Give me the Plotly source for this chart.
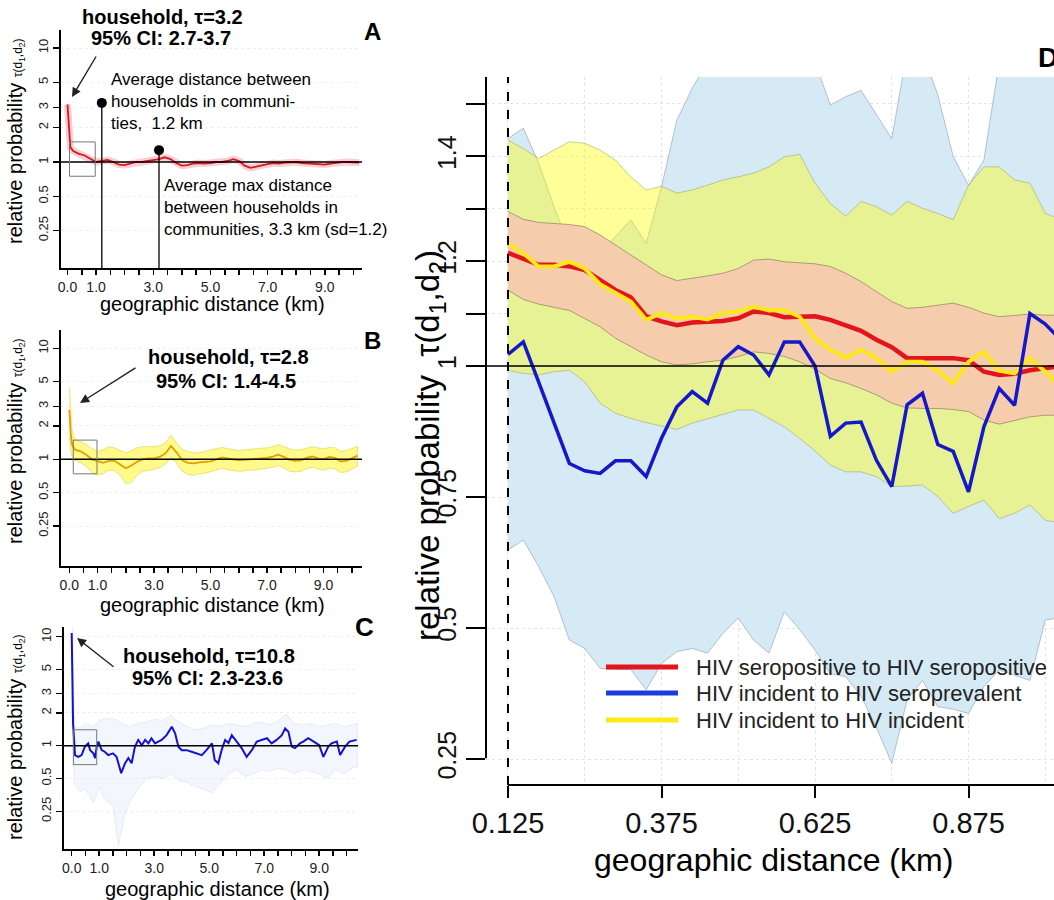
import plotly.graph_objects as go

W, H = 1054, 900
FONT = "Liberation Sans, Arial, Helvetica, sans-serif"

# ---------------- Panel D data (geographic distance in km) ----------------
dist_D = [0.125, 0.15, 0.175, 0.2, 0.225, 0.25, 0.275, 0.3, 0.325, 0.35,
          0.375, 0.4, 0.425, 0.45, 0.475, 0.5, 0.525, 0.55, 0.575, 0.6,
          0.625, 0.65, 0.675, 0.7, 0.725, 0.75, 0.775, 0.8, 0.825, 0.85,
          0.875, 0.9, 0.925, 0.95, 0.975, 1.0, 1.025]
red_D = [1.216, 1.205, 1.193, 1.193, 1.190, 1.183, 1.164, 1.145, 1.131, 1.095,
         1.085, 1.078, 1.083, 1.085, 1.086, 1.091, 1.104, 1.101, 1.093, 1.094,
         1.095, 1.088, 1.078, 1.067, 1.050, 1.036, 1.015, 1.015, 1.015, 1.015,
         1.011, 0.989, 0.983, 0.985, 0.992, 0.997, 1.0]
red_D_up = [1.295, 1.280, 1.274, 1.272, 1.270, 1.266, 1.250, 1.231, 1.212, 1.193,
            1.174, 1.163, 1.167, 1.172, 1.177, 1.186, 1.202, 1.204, 1.199, 1.197,
            1.195, 1.190, 1.177, 1.161, 1.142, 1.123, 1.110, 1.112, 1.116, 1.120,
            1.112, 1.101, 1.094, 1.097, 1.099, 1.097, 1.097]
red_D_lo = [1.145, 1.127, 1.118, 1.112, 1.106, 1.091, 1.075, 1.053, 1.037, 1.021,
            1.008, 1.002, 1.004, 1.008, 1.011, 1.018, 1.027, 1.024, 1.018, 1.008,
            0.994, 0.976, 0.968, 0.957, 0.945, 0.929, 0.920, 0.919, 0.919, 0.917,
            0.913, 0.897, 0.889, 0.896, 0.903, 0.906, 0.906]
yel_D = [1.234, 1.215, 1.190, 1.190, 1.199, 1.186, 1.156, 1.139, 1.123, 1.088,
         1.101, 1.091, 1.094, 1.089, 1.101, 1.104, 1.113, 1.106, 1.107, 1.094,
         1.053, 1.031, 1.016, 1.031, 1.015, 0.989, 1.008, 1.008, 0.991, 0.967,
         1.008, 1.027, 0.991, 0.986, 1.015, 0.989, 0.96]
yel_D_up = [1.431, 1.415, 1.396, 1.412, 1.428, 1.425, 1.412, 1.393, 1.361, 1.336,
            1.343, 1.330, 1.336, 1.345, 1.355, 1.361, 1.368, 1.380, 1.399, 1.404,
            1.349, 1.310, 1.286, 1.314, 1.304, 1.288, 1.314, 1.301, 1.291, 1.279,
            1.345, 1.380, 1.380, 1.355, 1.349, 1.291, 1.28]
yel_D_lo = [0.992, 0.986, 0.983, 0.989, 0.992, 0.970, 0.929, 0.910, 0.900, 0.892,
            0.885, 0.879, 0.891, 0.900, 0.908, 0.916, 0.916, 0.900, 0.884, 0.862,
            0.838, 0.811, 0.798, 0.798, 0.789, 0.770, 0.771, 0.773, 0.751, 0.719,
            0.732, 0.744, 0.709, 0.719, 0.735, 0.706, 0.70]
blue_D = [1.022, 1.046, 0.969, 0.893, 0.814, 0.800, 0.795, 0.819, 0.819, 0.789,
          0.862, 0.922, 0.951, 0.929, 1.011, 1.037, 1.021, 0.983, 1.046, 1.046,
          1.0, 0.866, 0.891, 0.893, 0.82, 0.770, 0.926, 0.948, 0.850, 0.837,
          0.760, 0.884, 0.957, 0.925, 1.100, 1.080, 1.05]
blue_D_up = [1.434, 1.454, 1.387, 1.304, 1.228, 1.19, 1.215, 1.247, 1.279, 1.234,
             1.342, 1.469, 1.53, 1.58, 1.62, 1.63, 1.65, 1.62, 1.6, 1.6,
             1.58, 1.498, 1.514, 1.526, 1.479, 1.434, 1.6, 1.6, 1.517, 1.40,
             1.345, 1.393, 1.58, 1.62, 1.62, 1.6, 1.6]
blue_D_lo = [0.649, 0.668, 0.617, 0.560, 0.477, 0.461, 0.423, 0.421, 0.421, 0.382,
             0.432, 0.455, 0.461, 0.452, 0.490, 0.519, 0.477, 0.452, 0.531, 0.497,
             0.458, 0.413, 0.407, 0.37, 0.31, 0.242, 0.363, 0.40, 0.35, 0.345,
             0.337, 0.388, 0.42, 0.41, 0.40, 0.515, 0.52]

# ---------------- Panels A / B data ----------------
dist_AB = [0, 0.05, 0.1, 0.2, 0.4, 0.6, 0.8, 1.0, 1.2, 1.4, 1.6, 1.8, 2.0, 2.2, 2.4,
           2.6, 2.8, 3.0, 3.2, 3.4, 3.6, 3.8, 4.0, 4.2, 4.4, 4.6, 4.8, 5.0, 5.2, 5.4,
           5.6, 5.8, 6.0, 6.2, 6.4, 6.6, 6.8, 7.0, 7.2, 7.4, 7.6, 7.8, 8.0, 8.2, 8.4,
           8.6, 8.8, 9.0, 9.2, 9.4, 9.6, 9.8, 10.0, 10.2]
tau_A = [3.2, 2.0, 1.35, 1.25, 1.18, 1.14, 1.06, 1.0, 1.02, 1.04, 1.0, 0.95, 0.94, 0.97,
         1.0, 1.0, 1.02, 1.05, 1.06, 1.1, 1.06, 0.98, 0.93, 0.94, 0.97, 0.98, 0.97, 0.98,
         1.0, 1.0, 1.02, 1.06, 1.02, 0.93, 0.89, 0.91, 0.94, 0.96, 0.98, 0.97, 0.99, 1.0,
         1.0, 0.98, 0.97, 0.96, 0.95, 0.95, 0.97, 0.99, 1.0, 1.0, 0.99, 0.99]
tau_B = [2.8, 1.7, 1.35, 1.22, 1.18, 1.1, 1.0, 0.97, 0.93, 0.97, 0.97, 0.9, 0.83, 0.88,
         0.95, 1.0, 1.02, 1.02, 1.05, 1.13, 1.32, 1.15, 0.98, 0.93, 0.92, 0.94, 0.95, 0.96,
         1.0, 1.04, 1.02, 1.0, 0.98, 0.99, 1.0, 1.0, 1.01, 1.03, 1.06, 1.1, 1.05, 0.99,
         0.97, 0.98, 1.03, 1.06, 1.02, 1.0, 1.05, 1.03, 0.96, 0.97, 1.02, 1.08]
tau_B_up = [4.5, 2.6, 1.8, 1.5, 1.45, 1.36, 1.25, 1.18, 1.22, 1.3, 1.27, 1.2, 1.15, 1.2,
            1.27, 1.3, 1.3, 1.3, 1.33, 1.4, 1.65, 1.4, 1.22, 1.17, 1.14, 1.15, 1.18, 1.21,
            1.25, 1.28, 1.25, 1.22, 1.2, 1.22, 1.23, 1.24, 1.25, 1.27, 1.3, 1.35, 1.3, 1.24,
            1.21, 1.22, 1.26, 1.3, 1.27, 1.24, 1.28, 1.27, 1.18, 1.2, 1.25, 1.31]
tau_B_lo = [1.6, 1.2, 1.05, 0.98, 0.93, 0.87, 0.76, 0.72, 0.74, 0.8, 0.79, 0.72, 0.6, 0.62,
            0.72, 0.78, 0.8, 0.81, 0.84, 0.9, 1.05, 0.92, 0.78, 0.73, 0.72, 0.74, 0.75, 0.77,
            0.8, 0.83, 0.81, 0.79, 0.78, 0.79, 0.8, 0.8, 0.81, 0.83, 0.85, 0.88, 0.84, 0.78,
            0.77, 0.78, 0.82, 0.85, 0.82, 0.8, 0.83, 0.82, 0.76, 0.77, 0.82, 0.87]

# ---------------- Panel C data ----------------
dist_C = [0, 0.05, 0.12, 0.24, 0.36, 0.48, 0.6, 0.67, 0.79, 0.85,
          0.91, 0.97, 1.09, 1.2, 1.33, 1.5, 1.63, 1.76, 1.8, 1.94,
          2.06, 2.18, 2.3, 2.42, 2.55, 2.67, 2.79, 2.9, 3.03, 3.15,
          3.27, 3.45, 3.64, 3.76, 3.88, 4.0, 4.18, 4.36, 4.55, 4.73,
          4.9, 5.1, 5.2, 5.33, 5.45, 5.58, 5.7, 5.82, 6.0, 6.18,
          6.36, 6.55, 6.73, 6.9, 7.1, 7.27, 7.45, 7.64, 7.76, 7.88,
          8.0, 8.12, 8.3, 8.42, 8.6, 8.8, 9.0, 9.15, 9.33, 9.45,
          9.64, 9.76, 9.94, 10.1, 10.36]
tau_C = [10.8, 1.6, 0.82, 0.79, 0.82, 0.98, 1.05, 0.91, 0.85, 0.77,
         0.98, 1.09, 0.91, 0.88, 0.82, 0.85, 0.79, 0.6, 0.56, 0.69,
         0.77, 0.69, 0.98, 1.13, 1.01, 1.13, 1.05, 1.17, 1.05, 1.09,
         1.13, 1.25, 1.49, 1.3, 0.98, 0.91, 0.91, 0.88, 0.85, 0.82,
         0.91, 1.05, 0.74, 0.69, 0.91, 1.13, 1.06, 1.25, 1.09, 0.95,
         0.79, 0.91, 1.09, 1.13, 1.17, 1.05, 1.13, 1.25, 1.44, 1.34,
         0.98, 0.95, 1.05, 1.09, 1.17, 1.09, 1.01, 0.79, 0.98, 1.05,
         1.09, 0.82, 0.98, 1.09, 1.13]
dist_C_band = [0, 0.1, 0.3, 0.5, 0.8, 1.0, 1.2, 1.5, 1.7, 1.9, 2.1, 2.4, 2.7, 3.0, 3.3,
               3.6, 3.9, 4.2, 4.5, 4.8, 5.1, 5.4, 5.7, 6.0, 6.3, 6.6, 6.9, 7.2, 7.5,
               7.8, 8.1, 8.4, 8.7, 9.0, 9.3, 9.6, 9.9, 10.2, 10.4]
tau_C_up = [23.6, 1.5, 1.45, 1.6, 1.5, 1.7, 1.75, 1.78, 1.7, 1.55, 1.5, 1.6, 1.65, 1.75,
            1.7, 1.9, 1.65, 1.5, 1.4, 1.45, 1.55, 1.5, 1.6, 1.55, 1.5, 1.6, 1.65, 1.55,
            1.7, 1.95, 1.6, 1.55, 1.6, 1.5, 1.55, 1.6, 1.5, 1.55, 1.6]
tau_C_lo = [2.3, 0.45, 0.38, 0.4, 0.3, 0.42, 0.32, 0.28, 0.12, 0.22, 0.3, 0.4, 0.5, 0.52,
            0.5, 0.55, 0.48, 0.46, 0.42, 0.4, 0.37, 0.45, 0.55, 0.6, 0.52, 0.55, 0.6, 0.58,
            0.62, 0.6, 0.55, 0.6, 0.58, 0.55, 0.5, 0.6, 0.55, 0.62, 0.64]

# markers in panel A: average distance (1.2 km) and average max distance (3.3 km)
mark_x_A = [1.2, 3.2]
mark_y_A = [3.3, 1.27]
# zoom boxes (x0, x1, y0, y1)
box_A = [0.07, 0.97, 0.75, 1.5]
box_B = [0.14, 0.98, 0.74, 1.49]
box_C = [0.06, 0.91, 0.67, 1.4]

small_y_ticks = [0.25, 0.5, 1, 2, 3, 5, 10]
small_y_text = ['0.25', '0.5', '1', '2', '3', '5', '10']
small_x_ticks = [0, 0.5, 1, 1.5, 2, 2.5, 3, 3.5, 4, 4.5, 5, 5.5, 6, 6.5, 7, 7.5, 8, 8.5, 9, 9.5, 10]
small_x_text = ['0.0', ' ', '1.0', ' ', ' ', ' ', '3.0', ' ', ' ', ' ', '5.0', ' ', ' ', ' ', '7.0',
                ' ', ' ', ' ', '9.0', ' ', ' ']
D_x_ticks = [0.125, 0.375, 0.625, 0.875]
D_x_text = ['0.125', '0.375', '0.625', '0.875']
D_y_ticks = [0.25, 0.5, 0.75, 1, 1.1, 1.2, 1.3, 1.4, 1.5]
D_y_text = ['0.25', '0.5', '0.75', '1', ' ', '1.2', ' ', '1.4', ' ']

legend_labels = ['HIV seropositive to HIV seropositive',
                 'HIV incident to HIV seroprevalent',
                 'HIV incident to HIV incident']

RED = '#E3141C'
BLUE = '#1518C8'
YEL = '#FFE81A'


def px(x):
    return x / W


def py(y):
    return 1 - y / H


fig = go.Figure()

# ---------------- layout geometry (pixels) ----------------
panels = {
    # name: (axis suffix, x0px, x1px, ytop, ybot, xrange, yrange(log10))
    'A': ('', 61, 362, 30, 268, [-0.227, 10.30], [-0.930, 1.158]),
    'B': ('2', 61, 362, 330, 566, [-0.294, 10.36], [-0.961, 1.165]),
    'C': ('3', 64, 358, 627, 849, [-0.28, 10.41], [-0.948, 1.089]),
}

layout = dict(width=W, height=H, margin=dict(l=0, r=0, t=0, b=0, pad=0),
              template='none', autosize=False,
              paper_bgcolor='white', plot_bgcolor='white', showlegend=False,
              font=dict(family=FONT, color='black'))

for name, (sfx, x0, x1, yt, yb, xr, yr) in panels.items():
    layout['xaxis' + sfx] = dict(
        domain=[px(x0), px(x1)], range=xr, anchor='y' + sfx, automargin=False,
        showline=True, linecolor='black', linewidth=2,
        ticks='outside', ticklen=5, tickwidth=1.5, tickcolor='black',
        tickmode='array', tickvals=small_x_ticks, ticktext=small_x_text, tickangle=0,
        tickfont=dict(size=14, family=FONT, color='#222'),
        showgrid=False, zeroline=False, fixedrange=True)
    layout['yaxis' + sfx] = dict(
        domain=[py(yb), py(yt)], range=yr, type='log', anchor='x' + sfx, automargin=False,
        showline=True, linecolor='black', linewidth=2,
        ticks='outside', ticklen=6, tickwidth=1.5, tickcolor='black',
        tickmode='array', tickvals=small_y_ticks, ticktext=small_y_text,
        tickangle=-90, tickfont=dict(size=13, family=FONT, color='#222'),
        showgrid=True, gridcolor='#efefef', griddash='dot', zeroline=False,
        fixedrange=True)

D_xr = [0.0892, 1.0142]
D_yr = [0.2004, 1.5515]
layout['xaxis4'] = dict(
    domain=[px(486), 1.0], range=D_xr, anchor='y4', showline=False, automargin=False,
    ticks='outside', ticklen=12, tickwidth=2, tickcolor='black', tickangle=0,
    tickmode='array', tickvals=D_x_ticks, ticktext=D_x_text, ticklabelstandoff=0,
    tickfont=dict(size=29, family=FONT, color='#111'),
    showgrid=False, zeroline=False,
    minor=dict(tick0=0.125, dtick=0.125, showgrid=True, gridcolor='#e4e4e4',
               griddash='dot', ticks=''))
layout['yaxis4'] = dict(
    domain=[py(785), py(77)], range=D_yr, anchor='x4', showline=False, automargin=False,
    ticks='outside', ticklen=19, tickwidth=2, tickcolor='black',
    tickmode='array', tickvals=D_y_ticks, ticktext=D_y_text, tickangle=-90,
    tickfont=dict(size=25, family=FONT, color='#111'),
    showgrid=True, gridcolor='#e4e4e4', griddash='dot', zeroline=False)

# ---------------- Panel D traces ----------------
def band(x, up, lo, fill, line, ax='x4', ay='y4', lw=0.8):
    return go.Scatter(x=list(x) + list(x)[::-1], y=list(up) + list(lo)[::-1],
                      fill='toself', fillcolor=fill, mode='lines',
                      line=dict(color=line, width=lw), xaxis=ax, yaxis=ay,
                      hoverinfo='skip')


fig.add_trace(band(dist_D, blue_D_up, blue_D_lo, 'rgb(214,234,246)', 'rgba(130,150,175,0.7)'))
fig.add_trace(band(dist_D, yel_D_up, yel_D_lo, 'rgba(255,255,0,0.40)', 'rgba(150,150,80,0.6)'))
fig.add_trace(band(dist_D, red_D_up, red_D_lo, 'rgb(246,205,172)', 'rgba(120,100,80,0.7)'))
fig.add_trace(go.Scatter(x=dist_D, y=red_D, mode='lines', line=dict(color=RED, width=4.5),
                         xaxis='x4', yaxis='y4'))
fig.add_trace(go.Scatter(x=dist_D, y=yel_D, mode='lines', line=dict(color=YEL, width=4),
                         xaxis='x4', yaxis='y4'))
fig.add_trace(go.Scatter(x=dist_D, y=blue_D, mode='lines', line=dict(color=BLUE, width=3.5),
                         xaxis='x4', yaxis='y4'))

# ---------------- Panels A, B, C traces ----------------
# A
fig.add_trace(go.Scatter(x=dist_AB, y=tau_A, mode='lines',
                         line=dict(color='rgba(245,90,110,0.30)', width=7), xaxis='x', yaxis='y'))
fig.add_trace(go.Scatter(x=dist_AB, y=tau_A, mode='lines',
                         line=dict(color='#D21A22', width=1.8), xaxis='x', yaxis='y'))
# B
fig.add_trace(band(dist_AB, tau_B_up, tau_B_lo, 'rgba(255,245,20,0.50)',
                   'rgba(215,200,40,0.6)', 'x2', 'y2'))
fig.add_trace(go.Scatter(x=dist_AB, y=tau_B, mode='lines',
                         line=dict(color='#E0A000', width=1.8), xaxis='x2', yaxis='y2'))
# C
fig.add_trace(band(dist_C_band, tau_C_up, tau_C_lo, 'rgba(218,228,248,0.32)',
                   'rgba(190,202,232,0.4)', 'x3', 'y3'))
fig.add_trace(go.Scatter(x=dist_C, y=tau_C, mode='lines',
                         line=dict(color='#1212D0', width=2), xaxis='x3', yaxis='y3'))

# reference line at 1 and zoom boxes
for (sfx, box) in [('', box_A), ('2', box_B), ('3', box_C)]:
    name = {'': 'A', '2': 'B', '3': 'C'}[sfx]
    xr = panels[name][5]
    fig.add_trace(go.Scatter(x=xr, y=[1, 1], mode='lines', line=dict(color='black', width=1.5),
                             xaxis='x' + sfx, yaxis='y' + sfx))
    bx0, bx1, by0, by1 = box
    fig.add_trace(go.Scatter(x=[bx0, bx1, bx1, bx0, bx0], y=[by0, by0, by1, by1, by0],
                             mode='lines', line=dict(color='#777', width=1),
                             xaxis='x' + sfx, yaxis='y' + sfx))

# vertical markers in A
ybottom_A = 10 ** panels['A'][6][0]
for mx, my in zip(mark_x_A, mark_y_A):
    fig.add_trace(go.Scatter(x=[mx, mx], y=[my, ybottom_A * 0.9], mode='lines',
                             line=dict(color='black', width=1.3), xaxis='x', yaxis='y'))
fig.add_trace(go.Scatter(x=mark_x_A, y=mark_y_A, mode='markers',
                         marker=dict(color='black', size=10), xaxis='x', yaxis='y'))

# ---------------- shapes for panel D ----------------
shapes = [
    dict(type='line', xref='paper', yref='paper', x0=px(486), x1=px(486),
         y0=py(758.3), y1=py(77), line=dict(color='black', width=2)),
    dict(type='line', xref='x4', yref='paper', x0=0.125, x1=D_xr[1],
         y0=py(785), y1=py(785), line=dict(color='black', width=2)),
    dict(type='line', xref='x4 domain', yref='y4', x0=0, x1=1, y0=1, y1=1,
         line=dict(color='black', width=1.5)),
    dict(type='line', xref='x4', yref='y4 domain', x0=0.125, x1=0.125, y0=0, y1=1,
         line=dict(color='black', width=2, dash='dash')),
]
# manual legend
leg_y = [667, 693, 720]
for yy, col in zip(leg_y, [RED, '#1E3CDC', YEL]):
    shapes.append(dict(type='line', xref='paper', yref='paper', x0=px(606), x1=px(678),
                       y0=py(yy), y1=py(yy), line=dict(color=col, width=5)))
layout['shapes'] = shapes


def ann(x, y, text, size, bold=False, xanchor='center', yanchor='middle', angle=0,
        align='center', color='black'):
    return dict(xref='paper', yref='paper', x=px(x), y=py(y),
                text=('<b>%s</b>' % text) if bold else text, showarrow=False,
                font=dict(size=size, family=FONT, color=color), xanchor=xanchor,
                yanchor=yanchor, textangle=angle, align=align)


def arrow(hx, hy, tx, ty):
    return dict(xref='paper', yref='paper', x=px(hx), y=py(hy), ax=tx - hx, ay=ty - hy,
                axref='pixel', ayref='pixel', text='', showarrow=True, arrowhead=2,
                arrowsize=1.3, arrowwidth=1.4, arrowcolor='#222', standoff=0)


ytitle_small = ('relative probability <span style="font-size:12px">'
                'τ(d<sub>1</sub>,d<sub>2</sub>)</span>')
annotations = [
    # panel letters
    ann(372, 31, 'A', 24, bold=True),
    ann(372, 340, 'B', 24, bold=True),
    ann(364, 627, 'C', 26, bold=True),
    ann(1036, 58, 'D', 28, bold=True, xanchor='left'),
    # panel A texts
    ann(162, 17, 'household, τ=3.2', 20, bold=True),
    ann(161, 38, '95% CI: 2.7-3.7', 20, bold=True),
    arrow(72, 97, 97, 55),
    ann(109, 101, 'Average distance between<br>households in communi-<br>ties,  1.2 km', 17,
        xanchor='left', align='left'),
    ann(162, 208, 'Average max distance<br>between households in<br>communities, 3.3 km (sd=1.2)',
        17, xanchor='left', align='left'),
    # panel B texts
    ann(228, 357, 'household, τ=2.8', 20, bold=True),
    ann(226, 381, '95% CI: 1.4-4.5', 20, bold=True),
    arrow(80, 403, 137, 367),
    # panel C texts
    ann(209, 656, 'household, τ=10.8', 20, bold=True),
    ann(207, 678, '95% CI: 2.3-23.6', 20, bold=True),
    arrow(77, 638, 115, 668),
    # axis titles small panels
    ann(212, 304, 'geographic distance (km)', 20),
    ann(212, 605, 'geographic distance (km)', 20),
    ann(217, 889, 'geographic distance (km)', 20),
    ann(15, 141, ytitle_small, 20, angle=-90),
    ann(15, 441, ytitle_small, 20, angle=-90),
    ann(15, 737, ytitle_small, 20, angle=-90),
    # panel D titles
    ann(773, 860, 'geographic distance (km)', 32),
    ann(430, 446, 'relative probability  τ(d<sub>1</sub>,d<sub>2</sub>)', 33, angle=-90),
]
for yy, lab in zip(leg_y, legend_labels):
    annotations.append(ann(694, yy, lab, 22, xanchor='left', color='#222'))
layout['annotations'] = annotations

fig.update_layout(**layout)
for tr in fig.data:
    tr.hoverinfo = 'skip'

fig.write_html("out.html", config={'displayModeBar': False, 'staticPlot': True},
               post_script="document.body.style.margin='0';document.body.style.padding='0';")
